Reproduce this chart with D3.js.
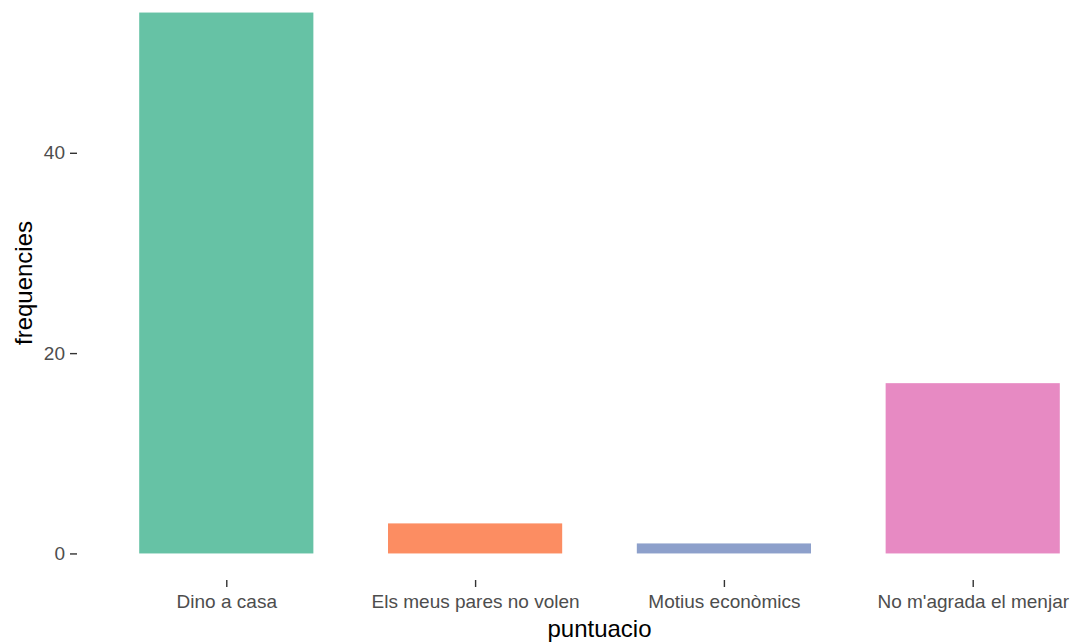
<!DOCTYPE html>
<html><head><meta charset="utf-8">
<script src="https://cdn.jsdelivr.net/npm/d3@7/dist/d3.min.js"></script>
<style>body{margin:0;background:#fff;}svg{display:block;}</style>
</head><body>
<svg id="chart" width="1071" height="643"></svg>
<script>
const categories = ["Dino a casa", "Els meus pares no volen", "Motius econòmics", "No m'agrada el menjar"];
const values = [54, 3, 1, 17];
const colors = ["#66c2a5", "#fc8d62", "#8da0cb", "#e78ac3"];
const yTicks = [0, 20, 40];

const svg = d3.select("#chart");
const font = "'Liberation Sans', Arial, sans-serif";

const x = d3.scaleLinear().domain([-0.6, categories.length - 1 + 0.6]).range([77, 1122]);
const yMax = d3.max(values);
const y = d3.scaleLinear().domain([-0.05 * yMax, yMax * 1.05]).range([580.5, -14.5]);

const barW = 0.7;
svg.selectAll("rect.bar").data(values).enter().append("rect")
  .attr("class", "bar")
  .attr("x", (d, i) => x(i - barW / 2))
  .attr("width", (d, i) => x(i + barW / 2) - x(i - barW / 2))
  .attr("y", d => y(d))
  .attr("height", d => y(0) - y(d))
  .attr("fill", (d, i) => colors[i]);

const yAxis = d3.axisLeft(y).tickValues(yTicks).tickSize(7).tickPadding(5).tickFormat(d3.format("d"));
const gy = svg.append("g").attr("transform", "translate(77,0)").call(yAxis);
gy.select(".domain").remove();
gy.selectAll(".tick line").attr("stroke", "#333333").attr("stroke-width", 1.4);
gy.selectAll(".tick text").attr("fill", "#4d4d4d").style("font-family", font).style("font-size", "19px");

const xAxis = d3.axisBottom(x).tickValues(d3.range(categories.length)).tickSize(7).tickPadding(8)
  .tickFormat(i => categories[i]);
const gx = svg.append("g").attr("transform", "translate(0,580)").call(xAxis);
gx.select(".domain").remove();
gx.selectAll(".tick line").attr("stroke", "#333333").attr("stroke-width", 1.4);
gx.selectAll(".tick text").attr("fill", "#4d4d4d").style("font-family", font).style("font-size", "19px");

svg.append("text").attr("x", x((categories.length - 1) / 2)).attr("y", 637)
  .attr("text-anchor", "middle").style("font-family", font).style("font-size", "24px")
  .attr("fill", "#000").text("puntuacio");
svg.append("text").attr("transform", `translate(32,${(y.range()[0] + y.range()[1]) / 2}) rotate(-90)`)
  .attr("text-anchor", "middle").style("font-family", font).style("font-size", "24px")
  .attr("fill", "#000").text("frequencies");
</script>
</body></html>
